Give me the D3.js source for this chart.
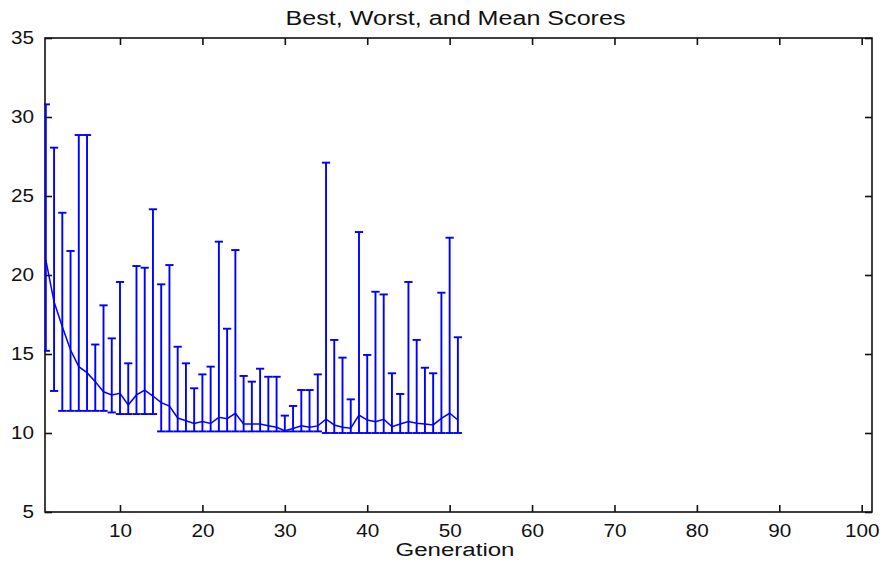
<!DOCTYPE html>
<html><head><meta charset="utf-8">
<script src="https://cdn.jsdelivr.net/npm/d3@7"></script>
<style>
html,body{margin:0;padding:0;background:#fff;}
text{font-family:"Liberation Sans",Arial,Helvetica,sans-serif;fill:#111;}
</style></head>
<body><svg id="chart" width="883" height="562"></svg>
<script>
const generations = [1,2,3,4,5,6,7,8,9,10,11,12,13,14,15,16,17,18,19,20,21,22,23,24,25,26,27,28,29,30,31,32,33,34,35,36,37,38,39,40,41,42,43,44,45,46,47,48,49,50,51];
const bestScores = [15.2,12.66,11.4,11.4,11.4,11.4,11.4,11.4,11.3,11.2,11.2,11.2,11.2,11.2,
  10.1,10.1,10.1,10.1,10.1,10.1,10.1,10.1,10.1,10.1,10.1,10.1,10.1,10.1,10.1,10.1,10.1,10.1,10.1,10.1,
  10.0,10.0,10.0,10.0,10.0,10.0,10.0,10.0,10.0,10.0,10.0,10.0,10.0,10.0,10.0,10.0,10.0];
const worstScores = [30.8,28.06,23.94,21.52,28.86,28.86,15.6,18.08,15.99,19.56,
  14.41,20.57,20.46,24.16,19.41,20.63,15.46,14.41,12.83,13.71,
  14.2,22.11,16.6,21.58,13.61,13.25,14.07,13.56,13.56,11.1,
  11.71,12.72,12.72,13.71,27.11,15.89,14.77,12.13,22.72,14.94,
  18.94,18.77,13.78,12.47,19.56,15.89,14.13,13.78,18.88,22.36,16.06];
const meanScores = [20.95,18.3,16.73,15.25,14.2,13.82,13.25,12.61,12.41,12.51,
  11.77,12.41,12.72,12.34,11.92,11.7,10.95,10.78,10.6,10.72,
  10.6,10.99,10.91,11.25,10.57,10.57,10.57,10.46,10.36,10.15,
  10.29,10.46,10.36,10.45,10.87,10.51,10.36,10.3,11.14,10.82,
  10.72,10.87,10.4,10.57,10.72,10.62,10.57,10.51,10.93,11.25,10.82];
const xTicks = [10,20,30,40,50,60,70,80,90,100];
const yTicks = [5,10,15,20,25,30,35];
const titleText = "Best, Worst, and Mean Scores";
const xLabelText = "Generation";

const svg = d3.select("#chart");
const L = 45, R = 872, T = 38, B = 512;
const x = d3.scaleLinear().domain([0.9, 101.25]).range([L, R]);
const y = d3.scaleLinear().domain([5, 35]).range([B, T]);
const blue = "#0000ff";
const tee = (d3.max(generations) - d3.min(generations)) / 100;

const rows = generations.map((g, i) => ({g, lo: bestScores[i], hi: worstScores[i], m: meanScores[i]}));

// axes box with inward ticks on all sides (drawn first, data on top)
const axisCol = "#111";
const tickLen = 7;
const ax = svg.append("g").attr("stroke", axisCol).attr("stroke-width", 1.6);
ax.append("rect").attr("x",L).attr("y",T).attr("width",R-L).attr("height",B-T).attr("fill","none");
const xb = d3.axisBottom(x).tickValues(xTicks).tickSize(-tickLen).tickPadding(12);
const xt = d3.axisTop(x).tickValues(xTicks).tickSize(-tickLen).tickFormat("");
const yl = d3.axisLeft(y).tickValues(yTicks).tickSize(-tickLen).tickPadding(11);
const yr = d3.axisRight(y).tickValues(yTicks).tickSize(-tickLen).tickFormat("");
function style(g){
  g.select(".domain").remove();
  g.selectAll(".tick line").attr("stroke", axisCol).attr("stroke-width", 1.6);
  g.selectAll(".tick text").attr("font-size", 18).attr("fill","#111")
   .attr("font-family", '"Liberation Sans", Arial, sans-serif')
   .each(function(){
     const w = this.getComputedTextLength();
     d3.select(this).attr("textLength", w * 1.15).attr("lengthAdjust", "spacingAndGlyphs");
   });
}
svg.append("g").attr("transform",`translate(0,${B})`).call(xb).call(style);
svg.append("g").attr("transform",`translate(0,${T})`).call(xt).call(style);
svg.append("g").attr("transform",`translate(${L},0)`).call(yl).call(style);
svg.append("g").attr("transform",`translate(${R},0)`).call(yr).call(style);

svg.append("clipPath").attr("id","clip").append("rect")
  .attr("x",L-1).attr("y",T).attr("width",R-L+1).attr("height",B-T);
const plot = svg.append("g").attr("clip-path","url(#clip)");

const eb = plot.append("g").attr("stroke", blue).attr("stroke-width", 1.9).attr("fill","none");
eb.selectAll("line.v").data(rows).join("line").attr("class","v")
  .attr("x1", d => x(d.g)).attr("x2", d => x(d.g))
  .attr("y1", d => y(d.lo)).attr("y2", d => y(d.hi));
eb.selectAll("line.top").data(rows).join("line").attr("class","top")
  .attr("x1", d => x(d.g - tee)).attr("x2", d => x(d.g + tee))
  .attr("y1", d => y(d.hi)).attr("y2", d => y(d.hi));
eb.selectAll("line.bot").data(rows).join("line").attr("class","bot")
  .attr("x1", d => x(d.g - tee)).attr("x2", d => x(d.g + tee))
  .attr("y1", d => y(d.lo)).attr("y2", d => y(d.lo));
plot.append("path").datum(rows)
  .attr("fill","none").attr("stroke", blue).attr("stroke-width", 1.5)
  .attr("d", d3.line().x(d => x(d.g)).y(d => y(d.m)));

svg.append("text").attr("x", 455.5).attr("y", 25).attr("text-anchor","middle")
  .attr("font-size", 20).attr("textLength", 340).attr("lengthAdjust","spacingAndGlyphs")
  .text(titleText);
svg.append("text").attr("x", 455).attr("y", 556).attr("text-anchor","middle")
  .attr("font-size", 18).attr("textLength", 119).attr("lengthAdjust","spacingAndGlyphs")
  .text(xLabelText);
</script></body></html>
